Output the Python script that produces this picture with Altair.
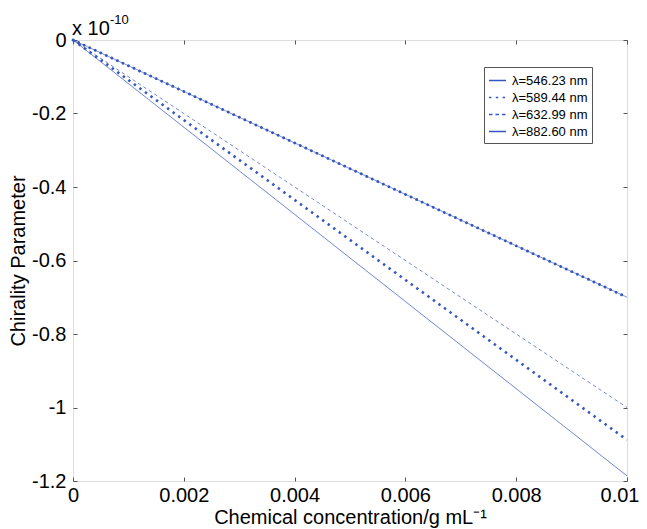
import altair as alt
import pandas as pd

# ---- data (chirality in units of 1e-10) ----
concentration = [0.0, 0.01]
chi_546 = [0.0, -1.186]
chi_589 = [0.0, -1.088]
chi_633 = [0.0, -1.000]
chi_883 = [0.0, -0.700]
series_labels = ["λ=546.23 nm", "λ=589.44 nm", "λ=632.99 nm", "λ=882.60 nm"]
x_ticks = [0, 0.002, 0.004, 0.006, 0.008, 0.01]
y_ticks = [0, -0.2, -0.4, -0.6, -0.8, -1, -1.2]

rows = []
for lab, vals in zip(series_labels, [chi_546, chi_589, chi_633, chi_883]):
    for x, y in zip(concentration, vals):
        rows.append({"c": x, "chi": y, "series": lab})
df = pd.DataFrame(rows)
df_marked = df[df["series"] == series_labels[3]]
df_note = pd.DataFrame([{"c": 0.0, "chi": 0.0}])

W, H = 554, 441
BLUE = "#3556bf"
FONT = "Liberation Sans"
INK = "#555555"

xs = alt.Scale(domain=[0, 0.01], nice=False, zero=False)
ys = alt.Scale(domain=[-1.2, 0], nice=False, zero=False)

legend = alt.Legend(
    title=None, orient="none", legendX=411, legendY=27,
    fillColor="white", strokeColor=INK, padding=4,
    labelFont=FONT, labelFontSize=13, labelColor="black",
    symbolType="stroke", symbolSize=290, symbolStrokeColor=BLUE,
    symbolStrokeWidth=1.3, rowPadding=0, labelOffset=5,
)

tick_common = dict(labels=False, ticks=True, tickSize=4, tickColor=INK,
                   domain=False, grid=False, title=None)

width_rule = {
    "condition": [
        {"test": "datum.series == '%s'" % series_labels[1], "value": 2.6},
        {"test": "datum.series == '%s'" % series_labels[0], "value": 0.8},
    ],
    "value": 0.7,
}

lines = alt.Chart(df).mark_line(color=BLUE).encode(
    x=alt.X("c:Q", scale=xs, axis=alt.Axis(
        orient="bottom", values=x_ticks, labelExpr="'' + datum.value",
        ticks=False, domain=False, grid=False,
        title="Chemical concentration/g mL⁻¹",
        labelFont=FONT, titleFont=FONT, labelFontSize=20, titleFontSize=20,
        labelColor="black", titleColor="black", titleFontWeight="normal",
        labelPadding=4, titlePadding=2, labelFlush=False,
        labelOffset={"condition": {"test": "datum.value >= 0.0099", "value": -7.5},
                     "value": 0})),
    y=alt.Y("chi:Q", scale=ys, axis=alt.Axis(
        orient="left", values=y_ticks, labelExpr="'' + datum.value",
        ticks=False, domain=False, grid=False,
        title="Chirality Parameter",
        labelFont=FONT, titleFont=FONT, labelFontSize=20, titleFontSize=20,
        labelColor="black", titleColor="black", titleFontWeight="normal",
        labelPadding=7, titlePadding=3, labelFlush=False)),
    strokeDash=alt.StrokeDash("series:N", scale=alt.Scale(
        domain=series_labels,
        range=[[1, 0], [2.4, 4.43], [3.5, 3], [1, 0]]), legend=legend),
    strokeWidth=width_rule,
)

markers = alt.Chart(df_marked).mark_line(
    color=BLUE, strokeDash=[0.1, 6.01], strokeWidth=2.8, strokeCap="round"
).encode(
    x=alt.X("c:Q", scale=xs, axis=alt.Axis(orient="top", offset=-H,
                                           values=x_ticks, **tick_common)),
    y=alt.Y("chi:Q", scale=ys, axis=alt.Axis(orient="right", offset=-W,
                                             values=y_ticks, **tick_common)),
)

ghost = alt.Chart(df).mark_line(opacity=0).encode(
    x=alt.X("c:Q", scale=xs, axis=alt.Axis(orient="bottom", offset=-H,
                                           values=x_ticks, **tick_common)),
    y=alt.Y("chi:Q", scale=ys, axis=alt.Axis(orient="left", offset=-W,
                                             values=y_ticks, **tick_common)),
)

note_main = alt.Chart(df_note).mark_text(
    text="x 10", align="left", baseline="alphabetic", dx=-1, dy=-5,
    fontSize=20, font=FONT, color="black"
).encode(
    x=alt.X("c:Q", scale=xs, axis=None),
    y=alt.Y("chi:Q", scale=ys, axis=None),
)

note_sup = alt.Chart(df_note).mark_text(
    text="-10", align="left", baseline="alphabetic", dx=37, dy=-16,
    fontSize=13, font=FONT, color="black"
).encode(
    x=alt.X("c:Q", scale=xs, axis=None),
    y=alt.Y("chi:Q", scale=ys, axis=None),
)

chart = alt.layer(lines, markers, ghost, note_main, note_sup).properties(
    width=W, height=H,
    autosize=alt.AutoSizeParams(type="none"),
    padding={"left": 65, "top": 32, "right": 12, "bottom": 48},
).configure_view(stroke=INK, strokeWidth=1).configure(background="white")

chart.save("out.html", embed_options={"renderer": "svg", "actions": False})
